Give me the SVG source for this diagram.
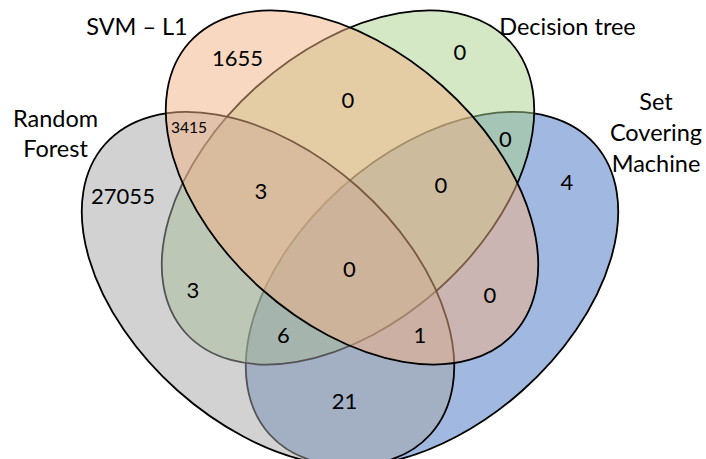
<svg xmlns="http://www.w3.org/2000/svg" width="706" height="459" viewBox="0 0 706 459">
  <style>
    .set { stroke: #000; stroke-width: 1.8; fill-opacity: 0.5; }
    .name { font-family: Lato, "Open Sans", sans-serif; font-size: 23.5px; fill: #000; text-anchor: middle; }
    .count { font-family: Lato, "Open Sans", sans-serif; font-size: 22px; fill: #000; text-anchor: middle; }
    .small { font-size: 15.5px; }
  </style>
  <rect width="706" height="459" fill="#fff"/>

  <!-- Set Covering Machine (drawn first, lowest layer) -->
  <g id="set-covering-machine">
    <ellipse class="set" fill="#4472C4" cx="0" cy="0" rx="218" ry="136" transform="translate(432 289) rotate(-41.7)"/>
    <text class="name" x="656" y="110">Set</text>
    <text class="name" x="656" y="141">Covering</text>
    <text class="name" x="656" y="172">Machine</text>
  </g>

  <!-- Decision tree -->
  <g id="decision-tree">
    <ellipse class="set" fill="#A9D18E" cx="0" cy="0" rx="218" ry="136" transform="translate(348 187.5) rotate(-41.7)"/>
    <text class="name" x="567.5" y="35">Decision tree</text>
  </g>

  <!-- Random Forest -->
  <g id="random-forest">
    <ellipse class="set" fill="#A5A5A5" cx="0" cy="0" rx="218" ry="136" transform="translate(268 289) rotate(41.7)"/>
    <text class="name" x="55.5" y="127">Random</text>
    <text class="name" x="55.5" y="157">Forest</text>
  </g>

  <!-- SVM - L1 (top layer) -->
  <g id="svm-l1">
    <ellipse class="set" fill="#F4B183" cx="0" cy="0" rx="218" ry="136" transform="translate(352 187.5) rotate(41.7)"/>
    <text class="name" x="137" y="35">SVM – L1</text>
  </g>

  <!-- Region counts -->
  <g id="counts">
    <text class="count" x="237.5" y="66">1655</text>
    <text class="count small" x="189" y="133">3415</text>
    <text class="count" x="123" y="204">27055</text>
    <text class="count" x="348" y="108">0</text>
    <text class="count" x="460" y="60">0</text>
    <text class="count" x="505.5" y="147">0</text>
    <text class="count" x="567" y="190">4</text>
    <text class="count" x="261" y="199">3</text>
    <text class="count" x="441" y="193">0</text>
    <text class="count" x="349.5" y="277">0</text>
    <text class="count" x="193" y="298">3</text>
    <text class="count" x="490" y="303">0</text>
    <text class="count" x="283.5" y="343">6</text>
    <text class="count" x="420" y="343">1</text>
    <text class="count" x="344.5" y="409">21</text>
  </g>
</svg>
